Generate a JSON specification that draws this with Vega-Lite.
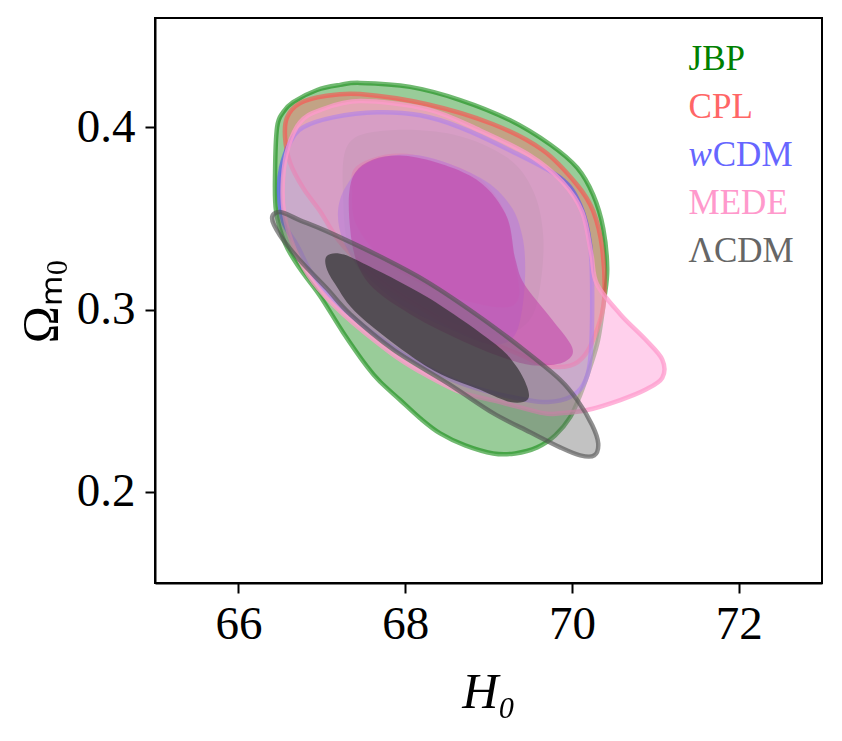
{
  "$schema": "https://vega.github.io/schema/vega-lite/v6.json",
  "description": "H0 vs Omega_m0 contours (68% and 95%) for JBP, CPL, wCDM, MEDE and LCDM",
  "width": 667,
  "height": 565,
  "autosize": "none",
  "padding": {"left": 155, "top": 18, "right": 20, "bottom": 158},
  "background": "white",
  "config": {
    "view": {"stroke": "black", "strokeWidth": 2},
    "axis": {
      "grid": false,
      "domainColor": "black",
      "domainWidth": 2,
      "tickColor": "black",
      "tickWidth": 2,
      "tickSize": 10,
      "labelColor": "black",
      "labelFont": "Liberation Serif",
      "labelFontSize": 47,
      "titleColor": "black",
      "titleFont": "Liberation Serif",
      "titleFontWeight": "normal",
      "titleFontSize": 50
    },
    "text": {"font": "Liberation Serif"}
  },
  "datasets": {
    "contours": [
      {"model": "JBP", "level": 95, "i": 0, "H0": 66.464, "Om": 0.400},
      {"model": "JBP", "level": 95, "i": 1, "H0": 66.536, "Om": 0.4083},
      {"model": "JBP", "level": 95, "i": 2, "H0": 66.656, "Om": 0.4139},
      {"model": "JBP", "level": 95, "i": 3, "H0": 66.944, "Om": 0.4205},
      {"model": "JBP", "level": 95, "i": 4, "H0": 67.22, "Om": 0.4233},
      {"model": "JBP", "level": 95, "i": 5, "H0": 67.46, "Om": 0.4244},
      {"model": "JBP", "level": 95, "i": 6, "H0": 68.06, "Om": 0.4222},
      {"model": "JBP", "level": 95, "i": 7, "H0": 68.66, "Om": 0.415},
      {"model": "JBP", "level": 95, "i": 8, "H0": 69.26, "Om": 0.4039},
      {"model": "JBP", "level": 95, "i": 9, "H0": 69.74, "Om": 0.3906},
      {"model": "JBP", "level": 95, "i": 10, "H0": 70.064, "Om": 0.3778},
      {"model": "JBP", "level": 95, "i": 11, "H0": 70.256, "Om": 0.3629},
      {"model": "JBP", "level": 95, "i": 12, "H0": 70.376, "Om": 0.3446},
      {"model": "JBP", "level": 95, "i": 13, "H0": 70.424, "Om": 0.3224},
      {"model": "JBP", "level": 95, "i": 14, "H0": 70.388, "Om": 0.3058},
      {"model": "JBP", "level": 95, "i": 15, "H0": 70.316, "Om": 0.2837},
      {"model": "JBP", "level": 95, "i": 16, "H0": 70.22, "Om": 0.2687},
      {"model": "JBP", "level": 95, "i": 17, "H0": 70.10, "Om": 0.2532},
      {"model": "JBP", "level": 95, "i": 18, "H0": 69.98, "Om": 0.241},
      {"model": "JBP", "level": 95, "i": 19, "H0": 69.80, "Om": 0.2310},
      {"model": "JBP", "level": 95, "i": 20, "H0": 69.584, "Om": 0.2244},
      {"model": "JBP", "level": 95, "i": 21, "H0": 69.32, "Om": 0.2211},
      {"model": "JBP", "level": 95, "i": 22, "H0": 69.056, "Om": 0.2211},
      {"model": "JBP", "level": 95, "i": 23, "H0": 68.72, "Om": 0.2255},
      {"model": "JBP", "level": 95, "i": 24, "H0": 68.42, "Om": 0.2321},
      {"model": "JBP", "level": 95, "i": 25, "H0": 68.18, "Om": 0.2404},
      {"model": "JBP", "level": 95, "i": 26, "H0": 67.94, "Om": 0.2504},
      {"model": "JBP", "level": 95, "i": 27, "H0": 67.70, "Om": 0.2604},
      {"model": "JBP", "level": 95, "i": 28, "H0": 67.544, "Om": 0.2687},
      {"model": "JBP", "level": 95, "i": 29, "H0": 67.256, "Om": 0.2875},
      {"model": "JBP", "level": 95, "i": 30, "H0": 66.98, "Om": 0.3075},
      {"model": "JBP", "level": 95, "i": 31, "H0": 66.74, "Om": 0.3224},
      {"model": "JBP", "level": 95, "i": 32, "H0": 66.56, "Om": 0.3363},
      {"model": "JBP", "level": 95, "i": 33, "H0": 66.452, "Om": 0.3540},
      {"model": "JBP", "level": 95, "i": 34, "H0": 66.44, "Om": 0.3751},

      {"model": "JBP", "level": 68, "i": 0, "H0": 67.316, "Om": 0.3906},
      {"model": "JBP", "level": 68, "i": 1, "H0": 67.784, "Om": 0.3983},
      {"model": "JBP", "level": 68, "i": 2, "H0": 68.576, "Om": 0.3961},
      {"model": "JBP", "level": 68, "i": 3, "H0": 69.224, "Om": 0.3834},
      {"model": "JBP", "level": 68, "i": 4, "H0": 69.536, "Om": 0.3651},
      {"model": "JBP", "level": 68, "i": 5, "H0": 69.656, "Om": 0.3407},
      {"model": "JBP", "level": 68, "i": 6, "H0": 69.62, "Om": 0.313},
      {"model": "JBP", "level": 68, "i": 7, "H0": 69.50, "Om": 0.2947},
      {"model": "JBP", "level": 68, "i": 8, "H0": 69.20, "Om": 0.2864},
      {"model": "JBP", "level": 68, "i": 9, "H0": 68.78, "Om": 0.2892},
      {"model": "JBP", "level": 68, "i": 10, "H0": 68.18, "Om": 0.3003},
      {"model": "JBP", "level": 68, "i": 11, "H0": 67.64, "Om": 0.3141},
      {"model": "JBP", "level": 68, "i": 12, "H0": 67.34, "Om": 0.3307},
      {"model": "JBP", "level": 68, "i": 13, "H0": 67.256, "Om": 0.3612},

      {"model": "CPL", "level": 95, "i": 0, "H0": 66.584, "Om": 0.4055},
      {"model": "CPL", "level": 95, "i": 1, "H0": 66.74, "Om": 0.4133},
      {"model": "CPL", "level": 95, "i": 2, "H0": 67.04, "Om": 0.4172},
      {"model": "CPL", "level": 95, "i": 3, "H0": 67.46, "Om": 0.4183},
      {"model": "CPL", "level": 95, "i": 4, "H0": 68.264, "Om": 0.4127},
      {"model": "CPL", "level": 95, "i": 5, "H0": 69.056, "Om": 0.4017},
      {"model": "CPL", "level": 95, "i": 6, "H0": 69.656, "Om": 0.3873},
      {"model": "CPL", "level": 95, "i": 7, "H0": 70.064, "Om": 0.3684},
      {"model": "CPL", "level": 95, "i": 8, "H0": 70.256, "Om": 0.354},
      {"model": "CPL", "level": 95, "i": 9, "H0": 70.364, "Om": 0.3335},
      {"model": "CPL", "level": 95, "i": 10, "H0": 70.388, "Om": 0.3058},
      {"model": "CPL", "level": 95, "i": 11, "H0": 70.304, "Om": 0.2892},
      {"model": "CPL", "level": 95, "i": 12, "H0": 70.16, "Om": 0.2753},
      {"model": "CPL", "level": 95, "i": 13, "H0": 69.98, "Om": 0.2693},
      {"model": "CPL", "level": 95, "i": 14, "H0": 69.68, "Om": 0.2693},
      {"model": "CPL", "level": 95, "i": 15, "H0": 69.38, "Om": 0.2753},
      {"model": "CPL", "level": 95, "i": 16, "H0": 69.02, "Om": 0.282},
      {"model": "CPL", "level": 95, "i": 17, "H0": 68.576, "Om": 0.2909},
      {"model": "CPL", "level": 95, "i": 18, "H0": 68.18, "Om": 0.3014},
      {"model": "CPL", "level": 95, "i": 19, "H0": 67.784, "Om": 0.313},
      {"model": "CPL", "level": 95, "i": 20, "H0": 67.46, "Om": 0.3252},
      {"model": "CPL", "level": 95, "i": 21, "H0": 67.184, "Om": 0.3391},
      {"model": "CPL", "level": 95, "i": 22, "H0": 66.98, "Om": 0.354},
      {"model": "CPL", "level": 95, "i": 23, "H0": 66.776, "Om": 0.3668},
      {"model": "CPL", "level": 95, "i": 24, "H0": 66.62, "Om": 0.3806},
      {"model": "CPL", "level": 95, "i": 25, "H0": 66.56, "Om": 0.3945},

      {"model": "CPL", "level": 68, "i": 0, "H0": 67.424, "Om": 0.3789},
      {"model": "CPL", "level": 68, "i": 1, "H0": 67.976, "Om": 0.3856},
      {"model": "CPL", "level": 68, "i": 2, "H0": 68.78, "Om": 0.3751},
      {"model": "CPL", "level": 68, "i": 3, "H0": 69.176, "Om": 0.3557},
      {"model": "CPL", "level": 68, "i": 4, "H0": 69.308, "Om": 0.328},
      {"model": "CPL", "level": 68, "i": 5, "H0": 69.356, "Om": 0.3058},
      {"model": "CPL", "level": 68, "i": 6, "H0": 69.08, "Om": 0.3014},
      {"model": "CPL", "level": 68, "i": 7, "H0": 68.384, "Om": 0.3103},
      {"model": "CPL", "level": 68, "i": 8, "H0": 67.784, "Om": 0.3258},
      {"model": "CPL", "level": 68, "i": 9, "H0": 67.424, "Om": 0.3457},
      {"model": "CPL", "level": 68, "i": 10, "H0": 67.364, "Om": 0.364},

      {"model": "wCDM", "level": 95, "i": 0, "H0": 66.512, "Om": 0.3778},
      {"model": "wCDM", "level": 95, "i": 1, "H0": 66.62, "Om": 0.3917},
      {"model": "wCDM", "level": 95, "i": 2, "H0": 66.776, "Om": 0.400},
      {"model": "wCDM", "level": 95, "i": 3, "H0": 67.136, "Om": 0.4055},
      {"model": "wCDM", "level": 95, "i": 4, "H0": 67.664, "Om": 0.4083},
      {"model": "wCDM", "level": 95, "i": 5, "H0": 68.18, "Om": 0.4066},
      {"model": "wCDM", "level": 95, "i": 6, "H0": 68.66, "Om": 0.400},
      {"model": "wCDM", "level": 95, "i": 7, "H0": 69.26, "Om": 0.3873},
      {"model": "wCDM", "level": 95, "i": 8, "H0": 69.86, "Om": 0.3723},
      {"model": "wCDM", "level": 95, "i": 9, "H0": 70.10, "Om": 0.3573},
      {"model": "wCDM", "level": 95, "i": 10, "H0": 70.22, "Om": 0.3352},
      {"model": "wCDM", "level": 95, "i": 11, "H0": 70.244, "Om": 0.3058},
      {"model": "wCDM", "level": 95, "i": 12, "H0": 70.22, "Om": 0.2726},
      {"model": "wCDM", "level": 95, "i": 13, "H0": 70.136, "Om": 0.2587},
      {"model": "wCDM", "level": 95, "i": 14, "H0": 69.98, "Om": 0.2521},
      {"model": "wCDM", "level": 95, "i": 15, "H0": 69.716, "Om": 0.2493},
      {"model": "wCDM", "level": 95, "i": 16, "H0": 69.464, "Om": 0.2504},
      {"model": "wCDM", "level": 95, "i": 17, "H0": 69.056, "Om": 0.2543},
      {"model": "wCDM", "level": 95, "i": 18, "H0": 68.66, "Om": 0.2598},
      {"model": "wCDM", "level": 95, "i": 19, "H0": 68.264, "Om": 0.2681},
      {"model": "wCDM", "level": 95, "i": 20, "H0": 67.856, "Om": 0.2792},
      {"model": "wCDM", "level": 95, "i": 21, "H0": 67.256, "Om": 0.3003},
      {"model": "wCDM", "level": 95, "i": 22, "H0": 66.92, "Om": 0.3169},
      {"model": "wCDM", "level": 95, "i": 23, "H0": 66.704, "Om": 0.3352},
      {"model": "wCDM", "level": 95, "i": 24, "H0": 66.536, "Om": 0.3485},
      {"model": "wCDM", "level": 95, "i": 25, "H0": 66.488, "Om": 0.364},

      {"model": "wCDM", "level": 68, "i": 0, "H0": 67.196, "Om": 0.3546},
      {"model": "wCDM", "level": 68, "i": 1, "H0": 67.316, "Om": 0.3695},
      {"model": "wCDM", "level": 68, "i": 2, "H0": 67.604, "Om": 0.3817},
      {"model": "wCDM", "level": 68, "i": 3, "H0": 68.18, "Om": 0.3845},
      {"model": "wCDM", "level": 68, "i": 4, "H0": 68.90, "Om": 0.3723},
      {"model": "wCDM", "level": 68, "i": 5, "H0": 69.26, "Om": 0.3573},
      {"model": "wCDM", "level": 68, "i": 6, "H0": 69.404, "Om": 0.3407},
      {"model": "wCDM", "level": 68, "i": 7, "H0": 69.44, "Om": 0.3224},
      {"model": "wCDM", "level": 68, "i": 8, "H0": 69.404, "Om": 0.3003},
      {"model": "wCDM", "level": 68, "i": 9, "H0": 69.296, "Om": 0.2848},
      {"model": "wCDM", "level": 68, "i": 10, "H0": 69.02, "Om": 0.2809},
      {"model": "wCDM", "level": 68, "i": 11, "H0": 68.54, "Om": 0.2892},
      {"model": "wCDM", "level": 68, "i": 12, "H0": 67.94, "Om": 0.3030},
      {"model": "wCDM", "level": 68, "i": 13, "H0": 67.484, "Om": 0.3213},
      {"model": "wCDM", "level": 68, "i": 14, "H0": 67.256, "Om": 0.338},

      {"model": "MEDE", "level": 95, "i": 0, "H0": 66.596, "Om": 0.3889},
      {"model": "MEDE", "level": 95, "i": 1, "H0": 66.74, "Om": 0.4028},
      {"model": "MEDE", "level": 95, "i": 2, "H0": 66.98, "Om": 0.4095},
      {"model": "MEDE", "level": 95, "i": 3, "H0": 67.46, "Om": 0.4144},
      {"model": "MEDE", "level": 95, "i": 4, "H0": 68.264, "Om": 0.4100},
      {"model": "MEDE", "level": 95, "i": 5, "H0": 68.90, "Om": 0.3983},
      {"model": "MEDE", "level": 95, "i": 6, "H0": 69.50, "Om": 0.3845},
      {"model": "MEDE", "level": 95, "i": 7, "H0": 69.884, "Om": 0.3701},
      {"model": "MEDE", "level": 95, "i": 8, "H0": 70.124, "Om": 0.3535},
      {"model": "MEDE", "level": 95, "i": 9, "H0": 70.232, "Om": 0.3307},
      {"model": "MEDE", "level": 95, "i": 10, "H0": 70.30, "Om": 0.3141},
      {"model": "MEDE", "level": 95, "i": 11, "H0": 70.58, "Om": 0.2975},
      {"model": "MEDE", "level": 95, "i": 12, "H0": 70.88, "Om": 0.2837},
      {"model": "MEDE", "level": 95, "i": 13, "H0": 71.084, "Om": 0.2726},
      {"model": "MEDE", "level": 95, "i": 14, "H0": 71.084, "Om": 0.2626},
      {"model": "MEDE", "level": 95, "i": 15, "H0": 70.88, "Om": 0.256},
      {"model": "MEDE", "level": 95, "i": 16, "H0": 70.58, "Om": 0.2504},
      {"model": "MEDE", "level": 95, "i": 17, "H0": 70.184, "Om": 0.2449},
      {"model": "MEDE", "level": 95, "i": 18, "H0": 69.86, "Om": 0.2432},
      {"model": "MEDE", "level": 95, "i": 19, "H0": 69.656, "Om": 0.2432},
      {"model": "MEDE", "level": 95, "i": 20, "H0": 69.14, "Om": 0.2493},
      {"model": "MEDE", "level": 95, "i": 21, "H0": 68.66, "Om": 0.2548},
      {"model": "MEDE", "level": 95, "i": 22, "H0": 68.18, "Om": 0.2659},
      {"model": "MEDE", "level": 95, "i": 23, "H0": 67.82, "Om": 0.2765},
      {"model": "MEDE", "level": 95, "i": 24, "H0": 67.256, "Om": 0.2975},
      {"model": "MEDE", "level": 95, "i": 25, "H0": 66.896, "Om": 0.3152},
      {"model": "MEDE", "level": 95, "i": 26, "H0": 66.68, "Om": 0.3324},
      {"model": "MEDE", "level": 95, "i": 27, "H0": 66.548, "Om": 0.3529},
      {"model": "MEDE", "level": 95, "i": 28, "H0": 66.536, "Om": 0.3723},

      {"model": "MEDE", "level": 68, "i": 0, "H0": 67.40, "Om": 0.3751},
      {"model": "MEDE", "level": 68, "i": 1, "H0": 67.94, "Om": 0.3845},
      {"model": "MEDE", "level": 68, "i": 2, "H0": 68.78, "Om": 0.3734},
      {"model": "MEDE", "level": 68, "i": 3, "H0": 69.20, "Om": 0.3529},
      {"model": "MEDE", "level": 68, "i": 4, "H0": 69.32, "Om": 0.328},
      {"model": "MEDE", "level": 68, "i": 5, "H0": 69.428, "Om": 0.3141},
      {"model": "MEDE", "level": 68, "i": 6, "H0": 69.74, "Om": 0.2958},
      {"model": "MEDE", "level": 68, "i": 7, "H0": 70.004, "Om": 0.2792},
      {"model": "MEDE", "level": 68, "i": 8, "H0": 69.92, "Om": 0.2715},
      {"model": "MEDE", "level": 68, "i": 9, "H0": 69.62, "Om": 0.2693},
      {"model": "MEDE", "level": 68, "i": 10, "H0": 69.32, "Om": 0.2715},
      {"model": "MEDE", "level": 68, "i": 11, "H0": 68.78, "Om": 0.2809},
      {"model": "MEDE", "level": 68, "i": 12, "H0": 68.06, "Om": 0.2975},
      {"model": "MEDE", "level": 68, "i": 13, "H0": 67.52, "Om": 0.3169},
      {"model": "MEDE", "level": 68, "i": 14, "H0": 67.34, "Om": 0.3446},

      {"model": "LCDM", "level": 95, "i": 0, "H0": 66.404, "Om": 0.3501},
      {"model": "LCDM", "level": 95, "i": 1, "H0": 66.50, "Om": 0.3535},
      {"model": "LCDM", "level": 95, "i": 2, "H0": 66.74, "Om": 0.349},
      {"model": "LCDM", "level": 95, "i": 3, "H0": 67.064, "Om": 0.3429},
      {"model": "LCDM", "level": 95, "i": 4, "H0": 67.70, "Om": 0.3291},
      {"model": "LCDM", "level": 95, "i": 5, "H0": 68.264, "Om": 0.3152},
      {"model": "LCDM", "level": 95, "i": 6, "H0": 68.90, "Om": 0.2958},
      {"model": "LCDM", "level": 95, "i": 7, "H0": 69.464, "Om": 0.2765},
      {"model": "LCDM", "level": 95, "i": 8, "H0": 69.86, "Om": 0.2615},
      {"model": "LCDM", "level": 95, "i": 9, "H0": 70.064, "Om": 0.2504},
      {"model": "LCDM", "level": 95, "i": 10, "H0": 70.244, "Om": 0.2366},
      {"model": "LCDM", "level": 95, "i": 11, "H0": 70.316, "Om": 0.2266},
      {"model": "LCDM", "level": 95, "i": 12, "H0": 70.268, "Om": 0.22},
      {"model": "LCDM", "level": 95, "i": 13, "H0": 70.10, "Om": 0.22},
      {"model": "LCDM", "level": 95, "i": 14, "H0": 69.86, "Om": 0.2244},
      {"model": "LCDM", "level": 95, "i": 15, "H0": 69.50, "Om": 0.2327},
      {"model": "LCDM", "level": 95, "i": 16, "H0": 69.056, "Om": 0.2432},
      {"model": "LCDM", "level": 95, "i": 17, "H0": 68.54, "Om": 0.2587},
      {"model": "LCDM", "level": 95, "i": 18, "H0": 67.856, "Om": 0.2781},
      {"model": "LCDM", "level": 95, "i": 19, "H0": 67.34, "Om": 0.2975},
      {"model": "LCDM", "level": 95, "i": 20, "H0": 67.064, "Om": 0.3114},
      {"model": "LCDM", "level": 95, "i": 21, "H0": 66.74, "Om": 0.3269},
      {"model": "LCDM", "level": 95, "i": 22, "H0": 66.50, "Om": 0.3407},

      {"model": "LCDM", "level": 68, "i": 0, "H0": 67.064, "Om": 0.3296},
      {"model": "LCDM", "level": 68, "i": 1, "H0": 67.22, "Om": 0.3307},
      {"model": "LCDM", "level": 68, "i": 2, "H0": 67.46, "Om": 0.3263},
      {"model": "LCDM", "level": 68, "i": 3, "H0": 68.264, "Om": 0.3069},
      {"model": "LCDM", "level": 68, "i": 4, "H0": 69.056, "Om": 0.282},
      {"model": "LCDM", "level": 68, "i": 5, "H0": 69.32, "Om": 0.2698},
      {"model": "LCDM", "level": 68, "i": 6, "H0": 69.464, "Om": 0.2576},
      {"model": "LCDM", "level": 68, "i": 7, "H0": 69.464, "Om": 0.2504},
      {"model": "LCDM", "level": 68, "i": 8, "H0": 69.26, "Om": 0.2493},
      {"model": "LCDM", "level": 68, "i": 9, "H0": 68.90, "Om": 0.256},
      {"model": "LCDM", "level": 68, "i": 10, "H0": 68.264, "Om": 0.2687},
      {"model": "LCDM", "level": 68, "i": 11, "H0": 67.46, "Om": 0.2964},
      {"model": "LCDM", "level": 68, "i": 12, "H0": 67.16, "Om": 0.3141},
      {"model": "LCDM", "level": 68, "i": 13, "H0": 67.052, "Om": 0.3235}
    ],
    "labels": [
      {"model": "JBP", "text": "JBP", "H0": 71.40, "Om": 0.4377},
      {"model": "CPL", "text": "CPL", "H0": 71.40, "Om": 0.4111},
      {"model": "wCDM", "text": "CDM", "H0": 71.69, "Om": 0.3850},
      {"model": "MEDE", "text": "MEDE", "H0": 71.40, "Om": 0.3584},
      {"model": "LCDM", "text": "ΛCDM", "H0": 71.40, "Om": 0.3324}
    ],
    "italic": [
      {"model": "wCDM", "text": "w", "H0": 71.40, "Om": 0.3850}
    ]
  },
  "encoding": {
    "x": {
      "field": "H0",
      "type": "quantitative",
      "scale": {"domain": [65, 73], "nice": false, "zero": false},
      "axis": {"values": [66, 68, 70, 72], "title": "H₀", "titleFontStyle": "italic", "labelPadding": 8, "titlePadding": 20, "labelFlush": false}
    },
    "y": {
      "field": "Om",
      "type": "quantitative",
      "scale": {"domain": [0.15, 0.46], "nice": false, "zero": false},
      "axis": {"values": [0.2, 0.3, 0.4], "format": ".1f", "title": "Ωₘ₀", "labelPadding": 10, "titlePadding": 10, "labelFlush": false}
    }
  },
  "layer": [
    {
      "data": {"name": "contours"},
      "transform": [{"filter": "datum.model == 'JBP' && datum.level == 95"}],
      "mark": {"type": "line", "interpolate": "cardinal-closed", "fill": "#008000", "fillOpacity": 0.4, "stroke": "#108a10", "strokeOpacity": 0.6, "strokeWidth": 4.5},
      "encoding": {"order": {"field": "i"}}
    },
    {
      "data": {"name": "contours"},
      "transform": [{"filter": "datum.model == 'JBP' && datum.level == 68"}],
      "mark": {"type": "line", "interpolate": "cardinal-closed", "fill": "#008000", "fillOpacity": 0.25, "strokeWidth": 0},
      "encoding": {"order": {"field": "i"}}
    },
    {
      "data": {"name": "contours"},
      "transform": [{"filter": "datum.model == 'CPL' && datum.level == 95"}],
      "mark": {"type": "line", "interpolate": "cardinal-closed", "fill": "#ff6666", "fillOpacity": 0.4, "stroke": "#ff4d4d", "strokeOpacity": 0.6, "strokeWidth": 4.5},
      "encoding": {"order": {"field": "i"}}
    },
    {
      "data": {"name": "contours"},
      "transform": [{"filter": "datum.model == 'CPL' && datum.level == 68"}],
      "mark": {"type": "line", "interpolate": "cardinal-closed", "fill": "#e03a3a", "fillOpacity": 0.5, "strokeWidth": 0},
      "encoding": {"order": {"field": "i"}}
    },
    {
      "data": {"name": "contours"},
      "transform": [{"filter": "datum.model == 'wCDM' && datum.level == 95"}],
      "mark": {"type": "line", "interpolate": "cardinal-closed", "fill": "#6666ff", "fillOpacity": 0.3, "stroke": "#4d4dff", "strokeOpacity": 0.6, "strokeWidth": 4.5},
      "encoding": {"order": {"field": "i"}}
    },
    {
      "data": {"name": "contours"},
      "transform": [{"filter": "datum.model == 'wCDM' && datum.level == 68"}],
      "mark": {"type": "line", "interpolate": "cardinal-closed", "fill": "#5a3ee0", "fillOpacity": 0.5, "strokeWidth": 0},
      "encoding": {"order": {"field": "i"}}
    },
    {
      "data": {"name": "contours"},
      "transform": [{"filter": "datum.model == 'MEDE' && datum.level == 95"}],
      "mark": {"type": "line", "interpolate": "cardinal-closed", "fill": "#ffaadd", "fillOpacity": 0.55, "stroke": "#ff99cc", "strokeOpacity": 0.75, "strokeWidth": 4.5},
      "encoding": {"order": {"field": "i"}}
    },
    {
      "data": {"name": "contours"},
      "transform": [{"filter": "datum.model == 'MEDE' && datum.level == 68"}],
      "mark": {"type": "line", "interpolate": "cardinal-closed", "fill": "#c040a8", "fillOpacity": 0.55, "strokeWidth": 0},
      "encoding": {"order": {"field": "i"}}
    },
    {
      "data": {"name": "contours"},
      "transform": [{"filter": "datum.model == 'LCDM' && datum.level == 95"}],
      "mark": {"type": "line", "interpolate": "cardinal-closed", "fill": "#666666", "fillOpacity": 0.4, "stroke": "#555555", "strokeOpacity": 0.65, "strokeWidth": 4.5},
      "encoding": {"order": {"field": "i"}}
    },
    {
      "data": {"name": "contours"},
      "transform": [{"filter": "datum.model == 'LCDM' && datum.level == 68"}],
      "mark": {"type": "line", "interpolate": "cardinal-closed", "fill": "#2a2a2a", "fillOpacity": 0.65, "strokeWidth": 0},
      "encoding": {"order": {"field": "i"}}
    },
    {
      "data": {"name": "labels"},
      "mark": {"type": "text", "align": "left", "baseline": "middle", "fontSize": 35},
      "encoding": {
        "text": {"field": "text"},
        "color": {
          "field": "model",
          "scale": {"domain": ["JBP", "CPL", "wCDM", "MEDE", "LCDM"], "range": ["#008000", "#ff6666", "#6666ff", "#ff99cc", "#666666"]},
          "legend": null
        }
      }
    },
    {
      "data": {"name": "italic"},
      "mark": {"type": "text", "align": "left", "baseline": "middle", "fontSize": 35, "fontStyle": "italic"},
      "encoding": {
        "text": {"field": "text"},
        "color": {"field": "model", "legend": null}
      }
    }
  ]
}
